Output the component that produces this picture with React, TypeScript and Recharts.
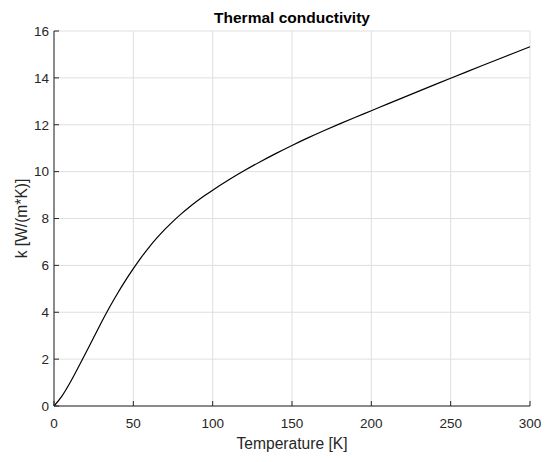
import { LineChart, Line, XAxis, YAxis, CartesianGrid } from "recharts";

// temperature [K] and conductivity [W/(m*K)]
const temps = [0, 5, 10, 15, 20, 25, 30, 35, 40, 45, 50, 55, 60, 65, 70, 75, 80, 85, 90, 95, 100, 110, 120, 130, 140, 150, 160, 170, 180, 190, 200, 210, 220, 230, 240, 250, 260, 270, 280, 290, 300];
const kVals = [0, 0.42, 0.98, 1.61, 2.26, 2.925, 3.58, 4.21, 4.8, 5.35, 5.86, 6.34, 6.78, 7.18, 7.545, 7.88, 8.188, 8.472, 8.735, 8.98, 9.21, 9.642, 10.045, 10.423, 10.78, 11.118, 11.44, 11.746, 12.039, 12.323, 12.599, 12.879, 13.157, 13.434, 13.71, 13.985, 14.257, 14.527, 14.795, 15.062, 15.328];
const xTicks = [0, 50, 100, 150, 200, 250, 300];
const yTicks = [0, 2, 4, 6, 8, 10, 12, 14, 16];

const data = temps.map((t, i) => ({ t, k: kVals[i] }));

const FONT = '"Liberation Sans", Arial, Helvetica, sans-serif';
const AXIS = "#262626";

export default function App() {
  return (
    <div style={{ position: "absolute", left: 0, top: 0, width: 550, height: 462, background: "#fff", fontFamily: FONT }}>
      <LineChart width={550} height={462} data={data} margin={{ top: 31, right: 20, bottom: 0, left: 0 }}>
        <CartesianGrid stroke="#dfdfdf" strokeWidth={1} />
        <XAxis
          dataKey="t"
          type="number"
          domain={[0, 300]}
          ticks={xTicks}
          height={56}
          stroke={AXIS}
          tickSize={-5}
          tickMargin={17.5}
          tick={{ fill: AXIS, fontSize: 13.5, fontFamily: FONT }}
        />
        <YAxis
          type="number"
          domain={[0, 16]}
          ticks={yTicks}
          width={54}
          stroke={AXIS}
          tickSize={-5}
          tickMargin={10}
          tick={{ fill: AXIS, fontSize: 13.5, fontFamily: FONT }}
        />
        <Line dataKey="k" type="monotone" stroke="#000" strokeWidth={1.2} dot={false} isAnimationActive={false} />
      </LineChart>
      <svg width={550} height={462} style={{ position: "absolute", left: 0, top: 0, pointerEvents: "none" }}>
        <text x={292} y={22.5} textAnchor="middle" fontFamily={FONT} fontSize={15.5} fontWeight="bold" fill="#000">
          Thermal conductivity
        </text>
        <text x={292} y={448.5} textAnchor="middle" fontFamily={FONT} fontSize={15.6} fill={AXIS}>
          Temperature [K]
        </text>
        <text transform="translate(26.5,218.5) rotate(-90)" textAnchor="middle" fontFamily={FONT} fontSize={15.6} fill={AXIS}>
          k [W/(m*K)]
        </text>
      </svg>
    </div>
  );
}
